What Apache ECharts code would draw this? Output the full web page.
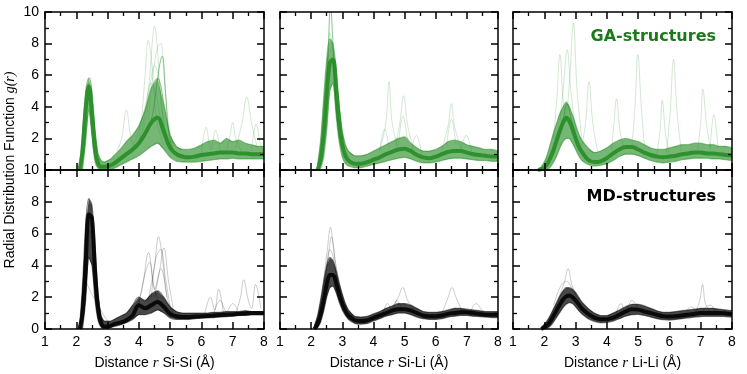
<!DOCTYPE html>
<html>
<head>
<meta charset="utf-8">
<script src="https://cdn.jsdelivr.net/npm/echarts@6/dist/echarts.min.js"></script>
<style>
    html, body { margin: 0; padding: 0; background: #fff; }
    #rdf_chart { width: 747px; height: 374px; }
</style>
</head>
<body>
<div id="rdf_chart"></div>
<script>
// distance grid (Å) shared by the band curves
var rGrid = [1.8, 1.9, 2.0, 2.1, 2.2, 2.3, 2.4, 2.5, 2.6, 2.7, 2.8, 2.9, 3.0, 3.1, 3.2, 3.4, 3.6, 3.8, 4.0,
             4.2, 4.4, 4.6, 4.8, 5.0, 5.2, 5.4, 5.6, 5.8, 6.0, 6.2, 6.4, 6.6, 6.8, 7.0, 7.2, 7.4, 7.6, 7.8, 8.0];

var pairLabels = ['Si-Si', 'Si-Li', 'Li-Li'];
var xTicks = [1, 2, 3, 4, 5, 6, 7, 8];
var yTicks = [0, 2, 4, 6, 8, 10];

// GA-structures  (null = no curve drawn yet, g(r) = 0 below the first shell)
var gaSiSiCore = [null, null, null, 0, 1.2, 3.8, 5.3, 3.6, 1.3, 0.4, 0.2, 0.2, 0.25, 0.3, 0.4, 0.7, 1.0, 1.3, 1.7, 2.3, 3.0, 3.3, 2.4, 1.4, 1.0, 0.85, 0.8, 0.85, 0.95, 1.0, 1.05, 1.1, 1.1, 1.1, 1.05, 1.05, 1.0, 1.0, 1.0];
var gaSiSiHi   = [null, null, null, 0, 2.5, 5.0, 5.8, 5.0, 2.5, 1.0, 0.6, 0.5, 0.6, 0.7, 0.9, 1.3, 1.8, 2.2, 2.8, 3.8, 5.2, 5.8, 4.2, 2.2, 1.5, 1.3, 1.3, 1.4, 1.6, 1.8, 1.9, 1.7, 2.0, 1.8, 1.9, 1.7, 1.6, 1.5, 1.5];
var gaSiSiLo   = [null, null, null, null, 0, 1.8, 3.8, 2.2, 0.5, 0.1, 0, 0, 0, 0.05, 0.1, 0.3, 0.5, 0.7, 0.9, 1.2, 1.5, 1.7, 1.3, 0.8, 0.55, 0.5, 0.5, 0.5, 0.55, 0.6, 0.65, 0.7, 0.7, 0.75, 0.7, 0.7, 0.7, 0.7, 0.7];
var gaSiSiSpikes = [
    [[4.2, 2.2], [4.4, 3.2], [4.5, 4.3], [4.6, 5.8], [4.7, 7.0], [4.75, 7.2], [4.85, 5.0], [4.95, 2.5], [5.1, 1.3], [5.3, 1.0]],
    [[4.0, 2.0], [4.1, 3.5], [4.2, 6.0], [4.3, 8.2], [4.4, 7.0], [4.5, 4.5], [4.6, 2.8], [4.8, 1.6]],
    [[4.1, 2.5], [4.3, 5.0], [4.45, 8.5], [4.5, 9.1], [4.6, 7.5], [4.7, 4.5], [4.9, 2.0], [5.1, 1.2]],
    [[4.3, 3.0], [4.45, 6.0], [4.6, 7.8], [4.7, 8.0], [4.8, 6.0], [4.95, 3.0], [5.1, 1.5]],
    [[3.8, 1.5], [4.0, 2.5], [4.2, 4.0], [4.4, 5.5], [4.55, 4.8], [4.7, 3.2], [4.9, 1.8]],
    [[4.0, 1.8], [4.2, 3.0], [4.35, 5.2], [4.5, 6.6], [4.62, 6.0], [4.8, 3.0], [5.0, 1.5]],
    [[3.3, 1.2], [3.45, 2.0], [3.6, 3.8], [3.75, 2.0], [3.9, 1.3]],
    [[6.8, 1.2], [6.9, 2.0], [7.0, 3.0], [7.1, 2.0], [7.3, 1.1]],
    [[7.1, 1.4], [7.3, 3.0], [7.45, 4.6], [7.6, 3.0], [7.8, 1.3]],
    [[6.0, 1.1], [6.15, 2.7], [6.3, 1.3], [6.45, 2.5], [6.6, 1.2]],
    [[7.6, 1.2], [7.75, 2.9], [7.9, 1.5], [8.0, 1.1]],
    [[2.2, 2.0], [2.32, 5.0], [2.42, 5.9], [2.55, 3.5], [2.7, 0.8]]
];

var gaSiLiCore = [null, null, null, null, 0, 0.6, 2.2, 4.8, 6.8, 7.0, 5.2, 3.0, 1.6, 0.9, 0.6, 0.4, 0.4, 0.5, 0.65, 0.8, 1.0, 1.15, 1.3, 1.35, 1.2, 0.95, 0.8, 0.75, 0.85, 1.0, 1.15, 1.2, 1.2, 1.1, 1.0, 0.95, 0.9, 0.85, 0.85];
var gaSiLiHi   = [null, null, null, null, 0.3, 1.8, 4.5, 7.0, 8.3, 8.0, 6.5, 4.2, 2.5, 1.6, 1.2, 0.9, 0.9, 1.0, 1.2, 1.4, 1.6, 1.8, 2.0, 2.1, 1.7, 1.4, 1.2, 1.2, 1.3, 1.5, 1.8, 1.9, 1.8, 1.6, 1.5, 1.4, 1.3, 1.3, 1.2];
var gaSiLiLo   = [null, null, null, null, 0, 0.1, 0.8, 2.5, 5.0, 5.5, 3.5, 1.8, 0.8, 0.4, 0.25, 0.15, 0.15, 0.25, 0.35, 0.45, 0.55, 0.65, 0.75, 0.8, 0.7, 0.55, 0.45, 0.45, 0.5, 0.6, 0.7, 0.75, 0.75, 0.7, 0.65, 0.6, 0.6, 0.55, 0.55];
var gaSiLiSpikes = [
    [[2.45, 3.0], [2.55, 7.5], [2.62, 10.5], [2.7, 8.0], [2.8, 4.0], [2.9, 2.0]],
    [[2.5, 5.0], [2.6, 8.7], [2.7, 7.5], [2.8, 4.5], [2.95, 2.0]],
    [[4.2, 1.2], [4.4, 3.0], [4.5, 5.6], [4.6, 3.0], [4.8, 1.3]],
    [[4.7, 1.5], [4.85, 3.0], [4.97, 4.7], [5.1, 2.8], [5.3, 1.3]],
    [[6.2, 1.3], [6.4, 2.8], [6.5, 4.2], [6.6, 2.8], [6.8, 1.4]],
    [[4.2, 1.2], [4.36, 2.6], [4.5, 1.4]],
    [[5.2, 1.1], [5.38, 2.2], [5.55, 1.0]],
    [[6.8, 1.3], [6.98, 2.2], [7.15, 1.2]],
    [[4.8, 1.6], [4.95, 3.4], [5.1, 1.8]],
    [[6.35, 1.5], [6.5, 3.2], [6.65, 1.6]]
];

var gaLiLiCore = [0, 0.05, 0.15, 0.4, 0.8, 1.3, 1.9, 2.5, 3.0, 3.3, 3.1, 2.6, 2.0, 1.5, 1.15, 0.65, 0.5, 0.55, 0.75, 1.05, 1.3, 1.45, 1.45, 1.3, 1.1, 0.95, 0.85, 0.8, 0.85, 0.9, 1.0, 1.05, 1.1, 1.1, 1.05, 1.05, 1.0, 0.95, 0.9];
var gaLiLiHi   = [0, 0.2, 0.5, 1.0, 1.7, 2.4, 3.0, 3.6, 4.0, 4.3, 4.0, 3.5, 2.9, 2.3, 1.9, 1.4, 1.1, 1.2, 1.4, 1.7, 1.9, 2.0, 1.9, 1.8, 1.6, 1.4, 1.3, 1.3, 1.4, 1.5, 1.6, 1.6, 1.7, 1.7, 1.6, 1.6, 1.5, 1.5, 1.4];
var gaLiLiLo   = [null, null, 0, 0.05, 0.2, 0.5, 0.9, 1.4, 1.8, 2.0, 2.0, 1.7, 1.3, 0.9, 0.6, 0.35, 0.25, 0.3, 0.4, 0.6, 0.85, 1.0, 1.0, 0.9, 0.75, 0.6, 0.5, 0.45, 0.5, 0.55, 0.65, 0.7, 0.75, 0.75, 0.75, 0.7, 0.7, 0.65, 0.6];
var gaLiLiSpikes = [
    [[2.5, 2.5], [2.6, 3.2], [2.73, 4.2], [2.85, 3.3], [3.0, 2.2]],
    [[2.3, 2.0], [2.4, 4.5], [2.5, 7.3], [2.6, 4.5], [2.7, 3.0]],
    [[2.5, 3.0], [2.62, 5.5], [2.73, 7.6], [2.85, 5.0], [3.0, 2.5]],
    [[2.7, 3.0], [2.82, 6.0], [2.93, 9.3], [3.05, 5.0], [3.2, 2.0]],
    [[3.2, 1.5], [3.32, 3.0], [3.43, 5.6], [3.55, 3.0], [3.7, 1.2]],
    [[4.8, 1.5], [4.9, 4.0], [4.99, 7.3], [5.1, 4.0], [5.2, 1.5]],
    [[5.9, 1.0], [6.02, 3.5], [6.13, 7.0], [6.25, 3.5], [6.38, 1.2]],
    [[5.6, 1.0], [5.7, 2.5], [5.77, 4.4], [5.88, 2.2], [6.0, 1.0]],
    [[4.15, 1.3], [4.22, 2.8], [4.31, 4.5], [4.42, 2.5], [4.55, 1.4]],
    [[6.9, 1.3], [7.0, 3.0], [7.07, 5.1], [7.18, 3.0], [7.3, 1.4]],
    [[7.3, 1.3], [7.42, 3.5], [7.55, 1.4]]
];

// MD-structures
var mdSiSiCore = [null, null, null, 0, 1.0, 4.0, 7.2, 7.0, 3.6, 1.2, 0.35, 0.15, 0.15, 0.2, 0.3, 0.4, 0.55, 0.85, 1.5, 1.3, 1.5, 1.7, 1.4, 0.95, 0.8, 0.75, 0.75, 0.78, 0.8, 0.82, 0.85, 0.88, 0.9, 0.92, 0.95, 0.98, 1.0, 1.0, 1.0];
var mdSiSiHi   = [null, null, null, 0, 2.8, 6.5, 8.2, 7.8, 5.2, 2.2, 0.8, 0.5, 0.5, 0.5, 0.6, 0.8, 1.0, 1.5, 2.0, 1.8, 2.2, 2.4, 2.0, 1.4, 1.1, 1.0, 1.0, 1.0, 1.0, 1.0, 1.05, 1.05, 1.1, 1.1, 1.1, 1.15, 1.1, 1.1, 1.1];
var mdSiSiLo   = [null, null, null, null, 0, 1.8, 4.5, 4.0, 1.8, 0.5, 0.1, 0.05, 0.05, 0.1, 0.15, 0.25, 0.4, 0.6, 0.9, 0.9, 1.0, 1.2, 1.0, 0.7, 0.6, 0.6, 0.6, 0.65, 0.68, 0.7, 0.72, 0.75, 0.78, 0.8, 0.85, 0.85, 0.88, 0.88, 0.88];
var mdSiSiSpikes = [
    [[2.2, 1.0], [2.3, 3.0], [2.4, 2.6], [2.55, 2.0], [2.7, 1.5], [2.9, 0.8], [3.1, 0.3]],
    [[2.2, 1.5], [2.3, 5.0], [2.42, 6.2], [2.55, 4.5], [2.7, 1.5], [2.8, 0.4]],
    [[3.9, 1.2], [4.1, 2.5], [4.31, 4.8], [4.45, 3.0], [4.6, 1.8]],
    [[4.3, 1.8], [4.5, 4.0], [4.63, 5.8], [4.75, 4.5], [4.9, 2.0], [5.1, 1.0]],
    [[4.5, 2.0], [4.65, 3.5], [4.8, 5.1], [4.95, 3.0], [5.1, 1.3]],
    [[4.0, 1.5], [4.2, 3.5], [4.35, 4.2], [4.5, 2.5], [4.7, 3.8], [4.9, 2.0]],
    [[4.4, 2.0], [4.55, 4.5], [4.7, 5.0], [4.85, 3.2], [5.0, 1.4]],
    [[6.1, 0.9], [6.29, 2.0], [6.42, 1.2], [6.55, 2.5], [6.7, 1.0]],
    [[7.1, 1.0], [7.25, 2.0], [7.35, 3.1], [7.5, 1.8], [7.6, 1.3], [7.73, 2.8], [7.9, 1.3]],
    [[6.4, 1.0], [6.6, 1.8], [6.8, 1.1], [7.0, 1.6], [7.2, 1.0]]
];

var mdSiLiCore = [null, null, null, 0, 0.3, 0.9, 1.8, 2.8, 3.4, 3.4, 2.9, 2.2, 1.6, 1.15, 0.85, 0.55, 0.5, 0.55, 0.7, 0.85, 1.0, 1.15, 1.25, 1.25, 1.15, 1.0, 0.85, 0.8, 0.8, 0.85, 0.95, 1.0, 1.05, 1.05, 1.0, 0.95, 0.9, 0.9, 0.9];
var mdSiLiHi   = [null, null, null, 0.2, 0.8, 1.8, 3.0, 4.0, 4.5, 4.3, 3.7, 2.9, 2.2, 1.6, 1.2, 0.8, 0.75, 0.8, 0.95, 1.1, 1.3, 1.45, 1.6, 1.6, 1.5, 1.3, 1.1, 1.05, 1.05, 1.1, 1.2, 1.3, 1.3, 1.25, 1.2, 1.15, 1.1, 1.1, 1.1];
var mdSiLiLo   = [null, null, null, null, 0.05, 0.4, 1.1, 2.0, 2.6, 2.7, 2.3, 1.7, 1.2, 0.85, 0.6, 0.35, 0.3, 0.35, 0.5, 0.65, 0.8, 0.9, 1.0, 1.0, 0.9, 0.75, 0.65, 0.6, 0.6, 0.65, 0.75, 0.8, 0.85, 0.85, 0.8, 0.78, 0.75, 0.72, 0.72];
var mdSiLiSpikes = [
    [[2.4, 3.0], [2.52, 5.0], [2.62, 6.4], [2.72, 5.0], [2.85, 3.0], [3.0, 1.8]],
    [[2.4, 2.5], [2.55, 4.5], [2.65, 5.8], [2.8, 4.0], [3.0, 2.0]],
    [[2.5, 4.0], [2.6, 5.0], [2.7, 4.6], [2.85, 2.6]],
    [[4.6, 1.3], [4.8, 2.0], [4.94, 2.6], [5.1, 1.8], [5.3, 1.2]],
    [[6.2, 1.0], [6.4, 2.0], [6.52, 2.6], [6.65, 2.0], [6.85, 1.1]],
    [[4.3, 0.9], [4.45, 1.6], [4.6, 1.2], [4.75, 1.8], [4.9, 1.3]],
    [[7.1, 1.0], [7.3, 1.6], [7.5, 1.1]]
];

var mdLiLiCore = [null, 0, 0.1, 0.25, 0.5, 0.85, 1.2, 1.55, 1.85, 2.05, 2.1, 2.0, 1.8, 1.55, 1.3, 0.95, 0.72, 0.62, 0.62, 0.72, 0.9, 1.1, 1.25, 1.22, 1.1, 1.0, 0.9, 0.8, 0.78, 0.8, 0.85, 0.9, 0.95, 1.0, 1.0, 1.0, 1.0, 0.98, 0.95];
var mdLiLiHi   = [null, 0.1, 0.3, 0.55, 0.9, 1.3, 1.7, 2.1, 2.4, 2.6, 2.6, 2.5, 2.3, 2.0, 1.7, 1.3, 1.0, 0.85, 0.85, 1.0, 1.2, 1.4, 1.55, 1.55, 1.45, 1.3, 1.15, 1.05, 1.05, 1.1, 1.15, 1.2, 1.25, 1.3, 1.3, 1.3, 1.25, 1.2, 1.15];
var mdLiLiLo   = [null, null, 0, 0.05, 0.2, 0.45, 0.75, 1.05, 1.35, 1.55, 1.65, 1.6, 1.4, 1.15, 0.95, 0.65, 0.48, 0.4, 0.42, 0.5, 0.65, 0.8, 0.9, 0.92, 0.85, 0.75, 0.65, 0.58, 0.56, 0.6, 0.65, 0.7, 0.75, 0.78, 0.8, 0.8, 0.8, 0.78, 0.75];
var mdLiLiSpikes = [
    [[2.5, 2.2], [2.65, 3.0], [2.76, 3.8], [2.88, 2.8], [3.0, 2.2]],
    [[2.3, 1.5], [2.5, 2.6], [2.7, 3.0], [2.9, 2.5], [3.1, 1.8]],
    [[6.85, 1.1], [6.97, 1.8], [7.06, 2.8], [7.15, 1.6], [7.3, 1.1]],
    [[4.3, 1.0], [4.45, 1.6], [4.6, 1.1], [4.8, 1.8], [5.0, 1.3]],
    [[6.5, 0.9], [6.7, 1.4], [6.9, 1.0], [7.3, 1.5], [7.5, 1.0]]
];

var gaColor = '#228b22',   // 曲线颜色 GA
    mdColor = '#000000';   // 曲线颜色 MD

var panels = [
    {core: gaSiSiCore, hi: gaSiSiHi, lo: gaSiSiLo, spikes: gaSiSiSpikes, color: gaColor, row: 0, col: 0},
    {core: gaSiLiCore, hi: gaSiLiHi, lo: gaSiLiLo, spikes: gaSiLiSpikes, color: gaColor, row: 0, col: 1},
    {core: gaLiLiCore, hi: gaLiLiHi, lo: gaLiLiLo, spikes: gaLiLiSpikes, color: gaColor, row: 0, col: 2},
    {core: mdSiSiCore, hi: mdSiSiHi, lo: mdSiSiLo, spikes: mdSiSiSpikes, color: mdColor, row: 1, col: 0},
    {core: mdSiLiCore, hi: mdSiLiHi, lo: mdSiLiLo, spikes: mdSiLiSpikes, color: mdColor, row: 1, col: 1},
    {core: mdLiLiCore, hi: mdLiLiHi, lo: mdLiLiLo, spikes: mdLiLiSpikes, color: mdColor, row: 1, col: 2}
];

var colLeft = [45, 280, 513],
    colWidth = [219, 218, 219],
    rowTop = [12, 170],
    rowHeight = [158, 159];

var labelFont = 'Liberation Sans';

function pairsOf(ys) {
    return rGrid.map(function (x, k) { return [x, ys[k]]; });
}

function frameAxisX(i, p, pos) {
    var bottom = pos === 'bottom';
    var showLabel = bottom && p.row === 1;
    return {
        type: 'value', gridIndex: i, position: pos, z: 10,
        min: xTicks[0], max: xTicks[xTicks.length - 1], interval: 1,
        axisLine: {show: true, onZero: false, lineStyle: {color: '#000', width: 1.5}},
        axisTick: {show: true, inside: true, length: 7, lineStyle: {color: '#000', width: 1.5}},
        minorTick: {show: true, splitNumber: 2, length: 4, lineStyle: {color: '#000', width: 1.3}},
        splitLine: {show: false},
        axisLabel: {show: showLabel, margin: 6, fontSize: 14, color: '#000', fontFamily: labelFont},
        name: showLabel ? '{t|Distance }{i|r}{t| ' + pairLabels[p.col] + ' (Å)}' : '',
        nameLocation: 'middle',
        nameGap: 27,
        nameTextStyle: {
            color: '#000',
            rich: {
                t: {fontSize: 14, fontFamily: labelFont, color: '#000'},
                i: {fontSize: 15, fontFamily: 'Liberation Serif', fontStyle: 'italic', color: '#000'}
            }
        }
    };
}

function frameAxisY(i, p, pos) {
    var left = pos === 'left';
    return {
        type: 'value', gridIndex: i, position: pos, z: 10,
        min: yTicks[0], max: yTicks[yTicks.length - 1], interval: 2,
        axisLine: {show: true, onZero: false, lineStyle: {color: '#000', width: 1.5}},
        axisTick: {show: true, inside: true, length: 7, lineStyle: {color: '#000', width: 1.5}},
        minorTick: {show: true, splitNumber: 2, length: 4, lineStyle: {color: '#000', width: 1.3}},
        splitLine: {show: false},
        axisLabel: {
            show: left && p.col === 0, margin: 6, fontSize: 14, color: '#000', fontFamily: labelFont,
            showMinLabel: p.row === 1
        }
    };
}

var grids = [], xAxes = [], yAxes = [], series = [];

panels.forEach(function (p, i) {
    grids.push({
        left: colLeft[p.col], top: rowTop[p.row],
        width: colWidth[p.col], height: rowHeight[p.row]
    });
    xAxes.push(frameAxisX(i, p, 'bottom'));
    xAxes.push(frameAxisX(i, p, 'top'));
    yAxes.push(frameAxisY(i, p, 'left'));
    yAxes.push(frameAxisY(i, p, 'right'));

    var xi = 2 * i, yi = 2 * i;
    var isGA = p.row === 0;

    // 单条离散曲线
    p.spikes.forEach(function (s, k) {
        series.push({
            type: 'line', xAxisIndex: xi, yAxisIndex: yi, data: s,
            smooth: 0.4, symbol: 'none', silent: true,
            lineStyle: {color: p.color, width: 1, opacity: (k === 0 && isGA) ? 0.5 : 0.2}
        });
    });

    // 曲线束填充 (lo 到 hi 之间), 只取有数据的点
    series.push({
        type: 'custom', xAxisIndex: xi, yAxisIndex: yi, clip: true, silent: true,
        data: [[rGrid[0], 0]],
        renderItem: function (params, api) {
            var upper = [], lower = [];
            rGrid.forEach(function (x, k) {
                if (p.hi[k] == null) {
                    return;
                }
                upper.push(api.coord([x, p.hi[k]]));
                lower.push(api.coord([x, p.lo[k] == null ? 0 : p.lo[k]]));
            });
            return {
                type: 'polygon',
                shape: {points: lower.concat(upper.reverse())},
                style: {fill: p.color, opacity: isGA ? 0.62 : 0.72}
            };
        }
    });

    series.push({
        type: 'line', xAxisIndex: xi, yAxisIndex: yi,
        data: pairsOf(p.lo), smooth: 0.35, symbol: 'none', silent: true,
        lineStyle: {color: p.color, width: 1.2, opacity: 0.5}
    });
    series.push({
        type: 'line', xAxisIndex: xi, yAxisIndex: yi,
        data: pairsOf(p.hi), smooth: 0.35, symbol: 'none', silent: true,
        lineStyle: {color: p.color, width: 1.2, opacity: 0.5}
    });
    series.push({
        type: 'line', xAxisIndex: xi, yAxisIndex: yi,
        data: pairsOf(p.core), smooth: 0.35, symbol: 'none', silent: true,
        lineStyle: {color: p.color, width: 4, opacity: 0.85}
    });
});

var chartOption = {
    animation: false,
    backgroundColor: '#fff',
    grid: grids,
    xAxis: xAxes,
    yAxis: yAxes,
    series: series,
    graphic: [
        {
            type: 'text', x: 716, y: 37,
            style: {text: 'GA-structures', font: 'bold 16px "DejaVu Sans"', fill: '#1c7a1c', align: 'right', verticalAlign: 'middle'}
        },
        {
            type: 'text', x: 716, y: 197,
            style: {text: 'MD-structures', font: 'bold 16px "DejaVu Sans"', fill: '#000', align: 'right', verticalAlign: 'middle'}
        },
        {
            type: 'text', x: 10, y: 170, rotation: Math.PI / 2,
            style: {
                text: '{t|Radial Distribution Function }{i|g(r)}',
                align: 'center', verticalAlign: 'middle',
                rich: {
                    t: {fontSize: 14, fontFamily: labelFont, fill: '#000'},
                    i: {fontSize: 14, fontFamily: 'Liberation Serif', fontStyle: 'italic', fill: '#000'}
                }
            }
        }
    ]
};

var rdfChart = echarts.init(document.getElementById('rdf_chart'));
rdfChart.setOption(chartOption);
</script>
</body>
</html>
